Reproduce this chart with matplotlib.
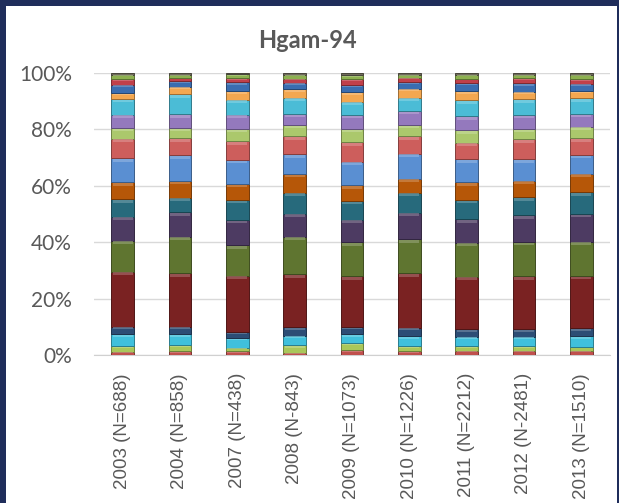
import numpy as np
import matplotlib.pyplot as plt
from matplotlib.patches import Rectangle
from matplotlib.colors import to_rgb
from matplotlib.ticker import FixedLocator

years = ['2003 (N=688)', '2004 (N=858)', '2007 (N=438)', '2008 (N-843)',
         '2009 (N=1073)', '2010 (N=1226)', '2011 (N=2212)', '2012 (N-2481)',
         '2013 (N=1510)']

# groups listed from the bottom of each bar upward
group_colors = ['#c0504d', '#a9c75a', '#40c0dc', '#2c4d75', '#7a2222',
                '#5f7530', '#4d3b62', '#276a7c', '#b65708', '#5a8fd2',
                '#cd5e5c', '#abc86c', '#9479bd', '#4bbcd6', '#f3a750',
                '#3a6db0', '#c0404a', '#8db050', '#6f6a5a']

shares = [
    # 2003
    [1.2, 2.0, 4.3, 2.6, 19.5, 10.9, 8.6, 6.2, 6.0, 8.5, 6.9, 3.8, 4.7, 5.6, 2.1, 3.0, 2.0, 1.5, 0.6],
    # 2004
    [1.4, 2.1, 3.8, 2.7, 18.9, 13.0, 8.6, 5.2, 6.0, 9.1, 5.9, 3.6, 5.0, 7.1, 2.7, 1.8, 1.2, 1.2, 0.6],
    # 2007
    [1.4, 1.2, 3.5, 2.0, 20.0, 10.9, 8.9, 7.1, 5.7, 8.5, 6.6, 4.4, 5.0, 5.3, 3.1, 3.2, 1.4, 1.3, 0.5],
    # 2008
    [0.8, 2.6, 3.5, 3.0, 18.7, 13.4, 8.2, 7.4, 6.7, 6.9, 6.5, 3.8, 3.9, 5.9, 3.0, 2.4, 1.4, 1.4, 0.6],
    # 2009
    [1.8, 2.4, 3.2, 2.4, 18.1, 12.1, 8.0, 6.7, 5.6, 8.3, 6.9, 4.7, 5.0, 4.7, 3.5, 2.4, 2.1, 1.4, 0.8],
    # 2010
    [1.4, 1.8, 3.5, 3.0, 19.3, 12.1, 9.5, 7.1, 5.0, 8.9, 6.3, 3.8, 5.1, 4.7, 3.2, 2.4, 1.5, 1.1, 0.6],
    # 2011
    [1.5, 1.7, 3.3, 2.6, 18.7, 12.1, 8.3, 6.9, 6.2, 8.3, 5.9, 4.3, 5.0, 5.7, 3.2, 3.0, 1.4, 1.5, 0.6],
    # 2012
    [1.5, 1.7, 3.3, 2.6, 18.9, 12.2, 9.5, 6.3, 5.9, 7.6, 7.1, 3.6, 5.1, 5.6, 2.7, 3.0, 1.8, 1.2, 0.6],
    # 2013
    [1.5, 1.4, 3.8, 2.7, 18.6, 12.2, 9.8, 7.6, 6.6, 6.7, 5.9, 4.1, 4.5, 5.6, 2.4, 2.7, 1.7, 1.5, 0.6],
]

y_ticks = [0, 20, 40, 60, 80, 100]
y_tick_labels = ['0%', '20%', '40%', '60%', '80%', '100%']


def shade(color, factor):
    r, g, b = to_rgb(color)
    return (r * factor, g * factor, b * factor)


def tint(color, amount):
    r, g, b = to_rgb(color)
    return (r + (1 - r) * amount, g + (1 - g) * amount, b + (1 - b) * amount)


data = np.array(shares, dtype=float)
pct = data / data.sum(axis=1, keepdims=True) * 100

fig = plt.figure(figsize=(6.19, 5.03), dpi=100)
fig.patch.set_facecolor('#1f2d5b')
fig.patches.append(Rectangle((6 / 619, 0), 1 - 8 / 619, 1 - 6 / 503,
                             transform=fig.transFigure, facecolor='white',
                             edgecolor='none', zorder=-10))

ax = fig.add_axes([94 / 619, 148 / 503, 516 / 619, 282 / 503])
ax.set_facecolor('none')

x = np.arange(len(years))
width = 0.4
bottom = np.zeros(len(years))
for j, color in enumerate(group_colors):
    h = pct[:, j]
    ax.bar(x, h, width, bottom=bottom, color=color,
           edgecolor=shade(color, 0.65), linewidth=0.7, zorder=3)
    # soft bevel: lighter band along the top edge of each block
    hl = np.minimum(h * 0.2, 1.0)
    ax.bar(x, hl, width * 0.88, bottom=bottom + h - hl - 0.25,
           color=tint(color, 0.3), linewidth=0, alpha=0.7, zorder=4)
    bottom += h

ax.set_xlim(-0.5, len(years) - 0.5)
ax.set_ylim(0, 100)
ax.yaxis.set_major_locator(FixedLocator(y_ticks))
ax.set_yticklabels(y_tick_labels, fontsize=15, family='Lato', color='#595959')
ax.set_xticks(x)
ax.set_xticklabels(years, rotation=90, fontsize=13.5, family='Liberation Sans',
                   color='#595959')
ax.tick_params(axis='both', length=0)
ax.tick_params(axis='y', pad=16)
ax.tick_params(axis='x', pad=13)
ax.grid(axis='y', color='#d9d9d9', linewidth=1, zorder=0)
for side in ['left', 'right', 'top']:
    ax.spines[side].set_visible(False)
ax.spines['bottom'].set_color('#d0d0d0')

fig.text(0.497, 1 - 40 / 503, 'Hgam-94', ha='center', va='center',
         fontsize=17, fontweight='bold', family='Lato', color='#595959')

fig.savefig('out.png', dpi=100, facecolor=fig.get_facecolor())
